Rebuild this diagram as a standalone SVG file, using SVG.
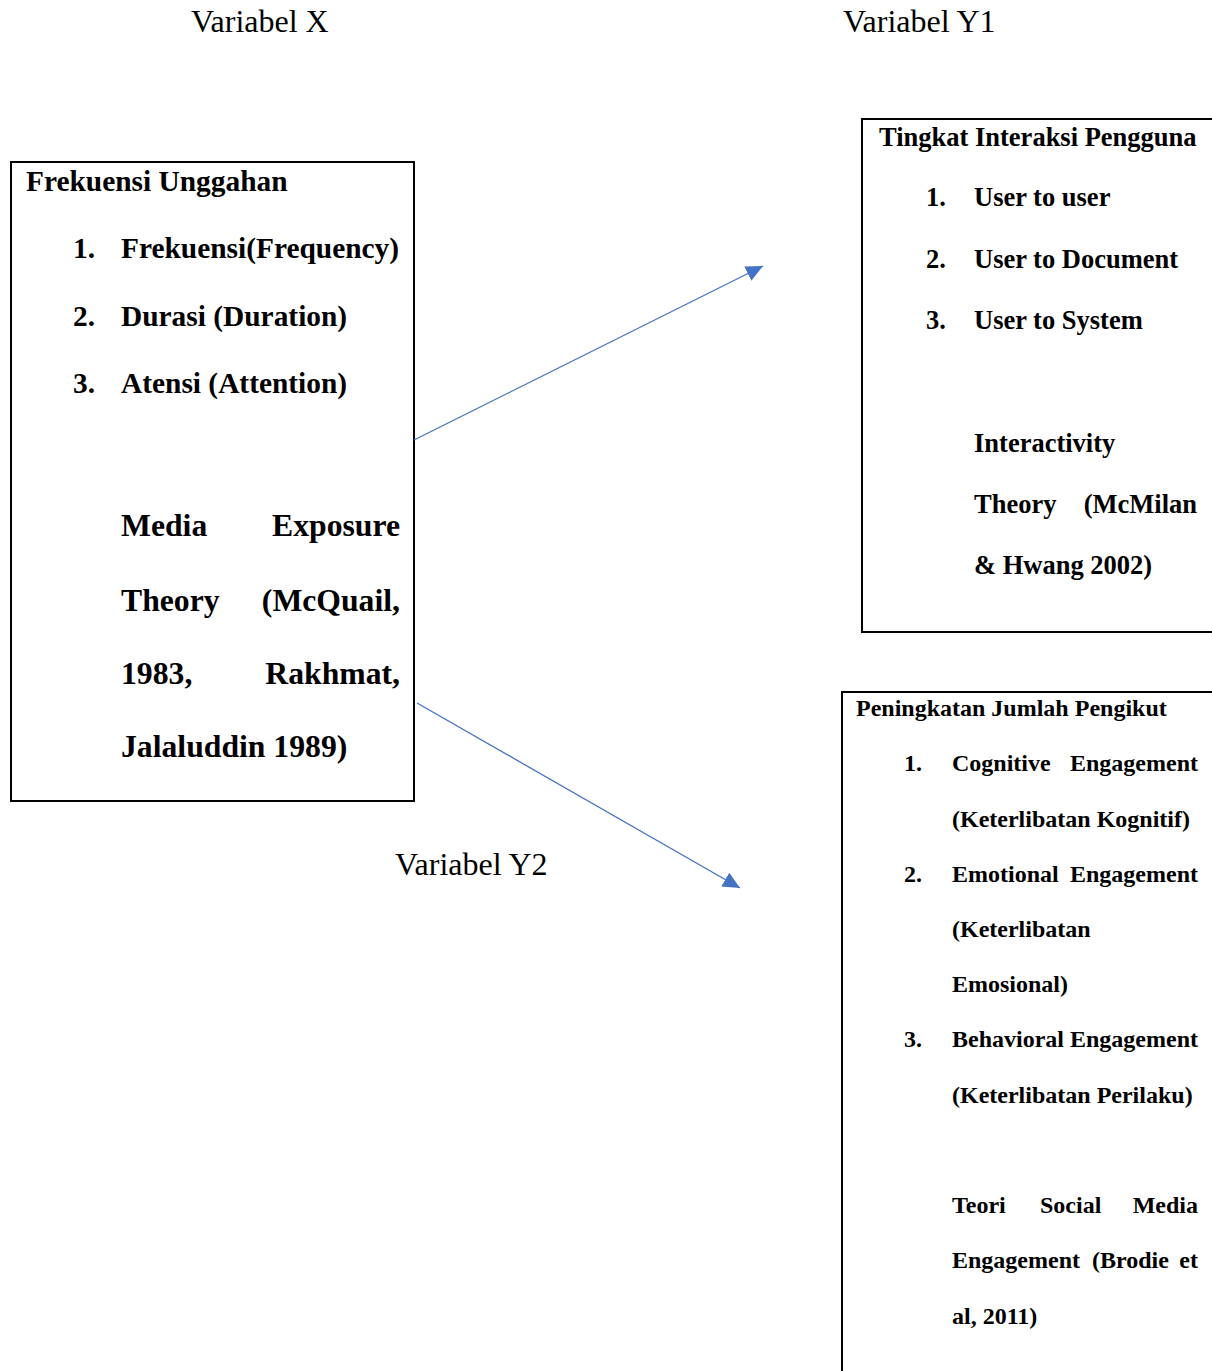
<svg xmlns="http://www.w3.org/2000/svg" width="1212" height="1371" viewBox="0 0 1212 1371">
<defs>
<style>
.lbl{font-family:"Liberation Serif","Times New Roman",serif;font-size:32px;fill:#000}
.b{font-family:"Liberation Serif","Times New Roman",serif;font-weight:bold;fill:#000}
.b1{font-size:29.4px}
.t1{font-size:31.7px}
.b2{font-size:26.5px}
.b3{font-size:24px}
.box{fill:#fff;stroke:#000;stroke-width:2}
.conn{stroke:#4472C4;stroke-width:1.3;fill:none}
.e{text-anchor:end}
</style>
<marker id="ah" markerUnits="userSpaceOnUse" markerWidth="18" markerHeight="16" refX="17" refY="8" orient="auto">
<path d="M0,0 L17,8 L0,16 Z" fill="#4472C4"/>
</marker>
</defs>
<rect width="1212" height="1371" fill="#fff"/>
<g id="labels">
<text class="lbl" x="191" y="32">Variabel X</text>
<text class="lbl" x="843" y="32">Variabel Y1</text>
<text class="lbl" x="395" y="875">Variabel Y2</text>
</g>
<g id="node-x">
<rect class="box" x="11" y="162" width="403" height="639"/>
<text class="b b1" x="26" y="191">Frekuensi Unggahan</text>
<text class="b b1" x="73" y="258">1.</text><text class="b b1" x="121" y="258">Frekuensi(Frequency)</text>
<text class="b b1" x="73" y="326">2.</text><text class="b b1" x="121" y="326">Durasi (Duration)</text>
<text class="b b1" x="73" y="393">3.</text><text class="b b1" x="121" y="393">Atensi (Attention)</text>
<text class="b t1" x="121" y="536">Media</text><text class="b t1 e" x="400" y="536">Exposure</text>
<text class="b t1" x="121" y="611">Theory</text><text class="b t1 e" x="400" y="611">(McQuail,</text>
<text class="b t1" x="121" y="684">1983,</text><text class="b t1 e" x="400" y="684">Rakhmat,</text>
<text class="b t1" x="121" y="757">Jalaluddin 1989)</text>
</g>
<g id="node-y1">
<rect class="box" x="862" y="119" width="360" height="513"/>
<text class="b b2" x="879" y="146">Tingkat Interaksi Pengguna</text>
<text class="b b2" x="926" y="206">1.</text><text class="b b2" x="974" y="206">User to user</text>
<text class="b b2" x="926" y="268">2.</text><text class="b b2" x="974" y="268">User to Document</text>
<text class="b b2" x="926" y="329">3.</text><text class="b b2" x="974" y="329">User to System</text>
<text class="b b2" x="974" y="452">Interactivity</text>
<text class="b b2" x="974" y="513">Theory</text><text class="b b2 e" x="1197" y="513">(McMilan</text>
<text class="b b2" x="974" y="574">&amp; Hwang 2002)</text>
</g>
<g id="node-y2">
<rect class="box" x="842" y="692" width="380" height="700"/>
<text class="b b3" x="856" y="716">Peningkatan Jumlah Pengikut</text>
<text class="b b3" x="904" y="771">1.</text><text class="b b3" x="952" y="771">Cognitive</text><text class="b b3 e" x="1198" y="771">Engagement</text>
<text class="b b3" x="952" y="827">(Keterlibatan Kognitif)</text>
<text class="b b3" x="904" y="882">2.</text><text class="b b3" x="952" y="882">Emotional</text><text class="b b3 e" x="1198" y="882">Engagement</text>
<text class="b b3" x="952" y="937">(Keterlibatan</text>
<text class="b b3" x="952" y="992">Emosional)</text>
<text class="b b3" x="904" y="1047">3.</text><text class="b b3" x="952" y="1047">Behavioral Engagement</text>
<text class="b b3" x="952" y="1103">(Keterlibatan Perilaku)</text>
<text class="b b3" x="952" y="1213">Teori</text><text class="b b3" x="1040" y="1213">Social</text><text class="b b3 e" x="1198" y="1213">Media</text>
<text class="b b3" x="952" y="1268">Engagement</text><text class="b b3" x="1092" y="1268">(Brodie</text><text class="b b3 e" x="1198" y="1268">et</text>
<text class="b b3" x="952" y="1324">al, 2011)</text>
</g>
<g id="connectors">
<line class="conn" x1="414" y1="440" x2="763" y2="266" marker-end="url(#ah)"/>
<line class="conn" x1="417" y1="703" x2="740" y2="888" marker-end="url(#ah)"/>
</g>
</svg>
